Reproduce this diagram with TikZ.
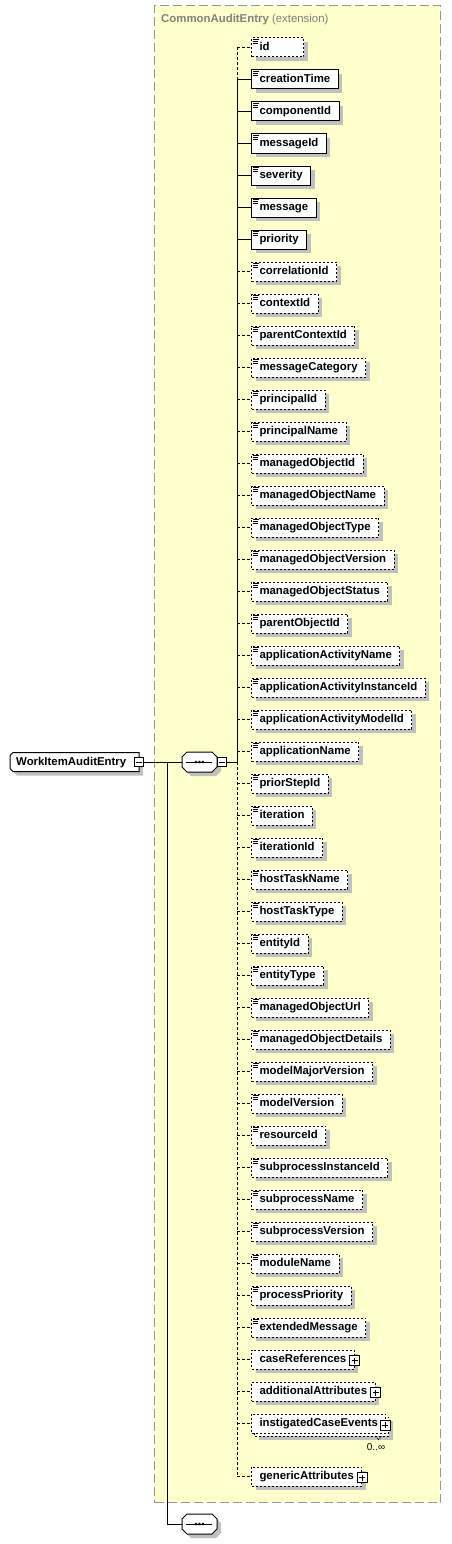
\documentclass[tikz,border=0pt]{standalone}
\usepackage{fontspec}
\setmainfont{Liberation Sans}
\usetikzlibrary{shadows}
\definecolor{frameyellow}{RGB}{255,255,204}
\definecolor{framegray}{RGB}{150,150,150}
\definecolor{shcol}{RGB}{192,192,192}
\definecolor{titlegray}{RGB}{128,128,128}
\tikzset{
  elfont/.style={font=\fontsize{11.4}{13}\selectfont\bfseries},
  shad/.style={general shadow={fill=shcol, shadow xshift=4pt, shadow yshift=-4pt}},
  elbase/.style={draw=black, fill=white, anchor=west, minimum height=19pt,
    inner xsep=8pt, inner ysep=0pt, text height=8.5pt,
    text depth=2.5pt, elfont, line width=1pt},
  reqel/.style={elbase, shad},
  optel/.style={elbase, shad, dash pattern=on 2pt off 2pt},
  optelns/.style={elbase, dash pattern=on 2pt off 2pt},
  conn/.style={draw=black, line width=1pt},
  optconn/.style={conn, dash pattern=on 3pt off 2pt},
  iconline/.style={line width=0.9pt},
  extframe/.style={draw=framegray, fill=frameyellow, line width=1pt,
    dash pattern=on 9pt off 4pt, anchor=north west, minimum width=286pt,
    minimum height=1496.5pt, inner sep=0pt},
  titletext/.style={anchor=base west, text=titlegray, inner sep=0pt,
    font=\fontsize{11.4}{13}\selectfont},
  plusbox/.style={draw=black, fill=white, minimum size=10pt, inner sep=0pt,
    line width=1pt, path picture={
      \draw[line width=1pt] ([xshift=-3pt]path picture bounding box.center) -- ++(6pt,0);
      \draw[line width=1pt] ([yshift=-3pt]path picture bounding box.center) -- ++(0,6pt);}},
  minusbox/.style={draw=black, fill=white, minimum size=9.5pt, inner sep=0pt,
    line width=1pt, path picture={
      \draw[line width=1pt] ([xshift=-3pt]path picture bounding box.center) -- ++(6pt,0);}},
  holder/.style={draw=none, inner sep=0pt, outer sep=0pt},
  rootlabel/.style={anchor=west, inner sep=0pt, text height=8.5pt, text depth=2.5pt, elfont},
  shapeline/.style={draw=black, fill=white, line width=1pt, shad},
  occtext/.style={font=\fontsize{10}{12}\selectfont, inner sep=0pt}
}
\newcommand{\elicon}[1]{%
  \draw[iconline] ([shift={(2,-2)}]#1.north west) -- ++(6,0);
  \draw[iconline] ([shift={(2,-4)}]#1.north west) -- ++(5,0);
  \draw[iconline] ([shift={(2,-6)}]#1.north west) -- ++(5,0);}
\newcommand{\octpath}[2]{([yshift=-#2]#1.north west) -- ([xshift=#2]#1.north west)
  -- ([xshift=-#2]#1.north east) -- ([yshift=-#2]#1.north east)
  -- ([yshift=#2]#1.south east) -- ([xshift=-#2]#1.south east)
  -- ([xshift=#2]#1.south west) -- ([yshift=#2]#1.south west) -- cycle}
\newcommand{\compdots}[1]{%
  \draw[line width=1pt] ([xshift=4pt]#1.west) -- ([xshift=-5pt]#1.east);
  \fill ([xshift=-3.5pt]#1.center) circle (1.3pt);
  \fill (#1.center) circle (1.3pt);
  \fill ([xshift=3.5pt]#1.center) circle (1.3pt);}
\begin{document}
\begin{tikzpicture}[x=1pt,y=1pt]
\useasboundingbox (0,0) rectangle (451,-1544);
% extension frame
\node[extframe] (ext) at (154,-5.5) {};
\node[titletext] (title) at (161,-23) {\textbf{CommonAuditEntry} (extension)};
% element 1 (optional)
\coordinate (s1) at (237,-47.5);
\node[optel] (e1) at (251,-47.5) {\makebox[36pt][l]{id}};
\elicon{e1}
\draw[optconn] (s1) -- (e1.west);
% required elements
\foreach \t [count=\i from 2] in {creationTime,componentId,messageId,severity,message,priority} {
  \pgfmathsetmacro\yy{-47.5-32*(\i-1)}
  \coordinate (s\i) at (237,\yy);
  \node[reqel] (e\i) at (251,\yy) {\t};
  \elicon{e\i}
  \draw[conn] (s\i) -- (e\i.west);
}
% optional simple elements
\foreach \t [count=\i from 8] in {correlationId,contextId,parentContextId,messageCategory,
  principalId,principalName,managedObjectId,managedObjectName,managedObjectType,
  managedObjectVersion,managedObjectStatus,parentObjectId,applicationActivityName,
  applicationActivityInstanceId,applicationActivityModelId,applicationName,priorStepId,
  iteration,iterationId,hostTaskName,hostTaskType,entityId,entityType,managedObjectUrl,
  managedObjectDetails,modelMajorVersion,modelVersion,resourceId,subprocessInstanceId,
  subprocessName,subprocessVersion,moduleName,processPriority,extendedMessage} {
  \pgfmathsetmacro\yy{-47.5-32*(\i-1)}
  \coordinate (s\i) at (237,\yy);
  \node[optel] (e\i) at (251,\yy) {\t};
  \elicon{e\i}
  \draw[optconn] (s\i) -- (e\i.west);
}
% complex elements
\coordinate (s42) at (237,-1359.5);
\node[optel] (e42) at (251,-1359.5) {caseReferences\hspace{5pt}};
\node[plusbox] (p42) at ([yshift=-1pt]e42.east) {};
\draw[optconn] (s42) -- (e42.west);
\coordinate (s43) at (237,-1391.5);
\node[optel] (e43) at (251,-1391.5) {additionalAttributes\hspace{4pt}};
\node[plusbox] (p43) at ([yshift=-1pt]e43.east) {};
\draw[optconn] (s43) -- (e43.west);
\coordinate (s44) at (237,-1423.5);
\node[optel] (e44b) at (254,-1426.5) {\phantom{instigatedCaseEvents}\hspace{8pt}};
\node[optelns] (e44) at (251,-1423.5) {instigatedCaseEvents\hspace{8pt}};
\node[plusbox] (p44) at ([xshift=-1pt,yshift=-1.5pt]e44.east) {};
\draw[line width=0.8pt, dash pattern=on 1pt off 1pt] ([xshift=-14pt]e44b.south east) -- ++(3,-3) -- ++(3,3);
\node[occtext] (occ) at (376,-1447) {0..∞};
\draw[optconn] (s44) -- (e44.west);
\coordinate (s45) at (237,-1476.5);
\node[optel] (e45) at (251,-1476.5) {genericAttributes\hspace{5pt}};
\node[plusbox] (p45) at ([yshift=-1pt]e45.east) {};
\draw[optconn] (s45) -- (e45.west);
% spine
\coordinate (smid) at (237,-762);
\draw[optconn] (s1) -- (s2);
\draw[conn] (s2) -- (smid);
\draw[optconn] (smid) -- (s45);
% root element
\node[holder, minimum width=129pt, minimum height=19pt, anchor=west] (root) at (10,-762) {};
\path[shapeline] ([yshift=-3pt]root.north west) -- ([xshift=3pt]root.north west)
  -- (root.north east) -- (root.south east) -- ([xshift=3pt]root.south west)
  -- ([yshift=3pt]root.south west) -- cycle;
\node[rootlabel] (rootlbl) at ([xshift=6pt]root.west) {WorkItemAuditEntry};
\node[minusbox] (rootm) at (root.east) {};
% sequence compositor
\node[holder, minimum width=35pt, minimum height=20pt] (seq) at (199.5,-762) {};
\path[shapeline] \octpath{seq}{5pt};
\compdots{seq}
\node[minusbox] (seqm) at (222,-762) {};
\draw[conn] (rootm.east) -- (seq.west);
\draw[conn] (seqm.east) -- (smid);
% second compositor
\node[holder, minimum width=35pt, minimum height=20pt] (seq2) at (199.5,-1524) {};
\path[shapeline] \octpath{seq2}{5pt};
\compdots{seq2}
\coordinate (jl) at (167,-762);
\draw[conn] (jl) |- (seq2.west);
\end{tikzpicture}
\end{document}
